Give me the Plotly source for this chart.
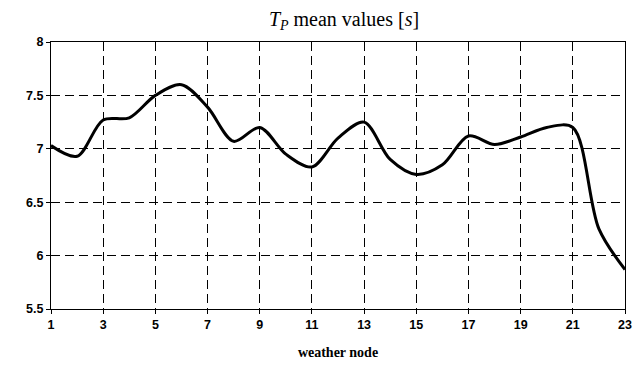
import plotly.graph_objects as go

nodes = list(range(1, 24))
tp_mean = [7.03, 6.93, 7.27, 7.29, 7.50, 7.60, 7.39, 7.07, 7.20, 6.95, 6.83, 7.10,
           7.25, 6.90, 6.76, 6.85, 7.12, 7.04, 7.11, 7.20, 7.20, 6.25, 5.87]
x_ticks = list(range(1, 24, 2))
y_ticks = [5.5, 6, 6.5, 7, 7.5, 8]
y_tick_labels = ["5.5", "6", "6.5", "7", "7.5", "8"]

fig = go.Figure()
fig.add_trace(go.Scatter(
    x=nodes, y=tp_mean, mode="lines",
    line=dict(color="black", width=3, shape="spline", smoothing=0.9),
    hoverinfo="skip", showlegend=False,
))

tickfont = dict(family="Liberation Sans", size=12.5, color="black", weight="bold")
fig.update_layout(
    width=644, height=365,
    margin=dict(l=51, r=19, t=42, b=56, autoexpand=False),
    paper_bgcolor="white", plot_bgcolor="white",
    title=dict(
        text="<i>T<sub>P</sub></i> mean values [<i>s</i>]",
        font=dict(family="Liberation Serif", size=20, color="black"),
        x=344 / 644, xanchor="center", y=1 - 19 / 365, yanchor="middle",
    ),
    xaxis=dict(
        range=[1, 23], tickvals=x_ticks, ticktext=[str(v) for v in x_ticks],
        showgrid=True, gridcolor="black", gridwidth=1.2, griddash="9px,5px",
        showline=True, linecolor="black", linewidth=1.2, mirror=True,
        ticks="outside", ticklen=4, tickcolor="black", tickfont=tickfont,
        zeroline=False, automargin=False,
        title=dict(text="weather node",
                   font=dict(family="Liberation Serif", size=14,
                             color="black", weight="bold"),
                   standoff=16),
    ),
    yaxis=dict(
        range=[5.5, 8], tickvals=y_ticks, ticktext=y_tick_labels,
        showgrid=True, gridcolor="black", gridwidth=1.2, griddash="9px,5px",
        showline=True, linecolor="black", linewidth=1.2, mirror=True,
        ticks="outside", ticklen=4, tickcolor="black", tickfont=tickfont,
        zeroline=False, automargin=False,
    ),
)

fig.write_html("out.html")
